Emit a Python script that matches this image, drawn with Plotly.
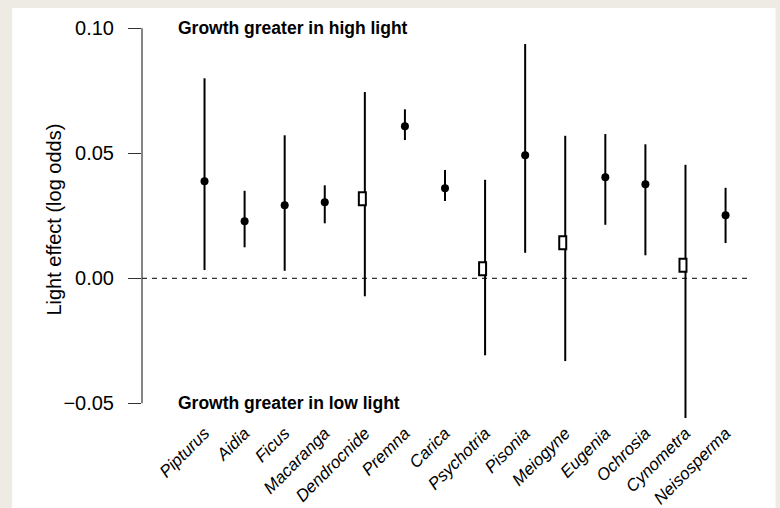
import plotly.graph_objects as go

species = ["Pipturus", "Aidia", "Ficus", "Macaranga", "Dendrocnide", "Premna", "Carica",
           "Psychotria", "Pisonia", "Meiogyne", "Eugenia", "Ochrosia", "Cynometra", "Neisosperma"]
estimate = [0.0388, 0.0228, 0.0292, 0.0304, 0.0318, 0.0608, 0.0360,
            0.0038, 0.0492, 0.0142, 0.0404, 0.0376, 0.0052, 0.0252]
upper = [0.0800, 0.0350, 0.0572, 0.0372, 0.0745, 0.0676, 0.0433,
         0.0394, 0.0937, 0.0570, 0.0577, 0.0536, 0.0454, 0.0362]
lower = [0.0033, 0.0124, 0.0030, 0.0220, -0.0072, 0.0553, 0.0309,
         -0.0308, 0.0102, -0.0331, 0.0214, 0.0092, -0.0559, 0.0141]
significant = [True, True, True, True, False, True, True,
               False, True, False, True, True, False, True]
y_ticks = [-0.05, 0.0, 0.05, 0.10]
y_tick_text = ["\u22120.05", "0.00", "0.05", "0.10"]

xpos = list(range(1, len(species) + 1))

W, H = 780, 508
L, R, T, B = 142, 31.5, 20, 89
pw, ph = W - L - R, H - T - B

def px_to_paper_x(px):
    return (px - L) / pw

def py_to_paper_y(py):
    return (H - B - py) / ph

FONT = "Liberation Sans, Arial, Helvetica, sans-serif"

fig = go.Figure()

fig.add_trace(go.Scatter(
    x=xpos, y=estimate, mode="markers",
    marker=dict(size=2, color="rgba(0,0,0,0)"),
    error_y=dict(type="data", symmetric=False,
                 array=[u - e for u, e in zip(upper, estimate)],
                 arrayminus=[e - l for e, l in zip(estimate, lower)],
                 thickness=2, width=0, color="black"),
    showlegend=False, hoverinfo="skip"))

fig.add_trace(go.Scatter(
    x=[x for x, s in zip(xpos, significant) if s],
    y=[e for e, s in zip(estimate, significant) if s],
    mode="markers", marker=dict(size=8, color="black", symbol="circle"),
    showlegend=False))

shapes = [
    dict(type="rect", xref="paper", yref="paper",
         x0=px_to_paper_x(12), x1=px_to_paper_x(776),
         y0=py_to_paper_y(508), y1=py_to_paper_y(8),
         fillcolor="white", line=dict(width=0), layer="below"),
    dict(type="line", xref="paper", yref="y", x0=0, x1=1, y0=0, y1=0,
         line=dict(color="black", width=1, dash="5px,5px"), layer="below"),
    dict(type="line", xref="paper", yref="y", x0=0, x1=0,
         y0=min(y_ticks), y1=max(y_ticks),
         line=dict(color="#333333", width=1.2), layer="above"),
]
for x, e, s in zip(xpos, estimate, significant):
    if not s:
        shapes.append(dict(type="rect", xref="x", yref="y",
                           xsizemode="pixel", ysizemode="pixel",
                           xanchor=x, yanchor=e, x0=-6, x1=1, y0=-6.5, y1=6.5,
                           fillcolor="white", line=dict(color="black", width=2),
                           layer="above"))

annotations = [
    dict(text="<b>Growth greater in high light</b>", x=0.28, y=0.10, xref="x", yref="y",
         xanchor="left", yanchor="middle", showarrow=False,
         font=dict(family=FONT, size=17.5, color="black")),
    dict(text="<b>Growth greater in low light</b>", x=0.28, y=-0.05, xref="x", yref="y",
         xanchor="left", yanchor="middle", showarrow=False,
         font=dict(family=FONT, size=17.5, color="black")),
    dict(text="Light effect (log odds)", textangle=-90,
         x=px_to_paper_x(53), y=0.5, xref="paper", yref="paper",
         xanchor="center", yanchor="middle", showarrow=False,
         font=dict(family=FONT, size=20, color="black")),
]

fig.update_layout(
    width=W, height=H,
    margin=dict(l=L, r=R, t=T, b=B, autoexpand=False),
    paper_bgcolor="#EEEBE4", plot_bgcolor="white",
    font=dict(family=FONT, color="black"),
    shapes=shapes, annotations=annotations,
    xaxis=dict(range=[-0.56, 14.56], tickmode="array", tickvals=xpos,
               ticktext=["<i>%s</i>" % s for s in species], tickangle=-45,
               showgrid=False, zeroline=False, showline=False, ticks="",
               tickfont=dict(family=FONT, size=17, color="black")),
    yaxis=dict(range=[(278.3 - 419) / 2500, (278.3 - 20) / 2500],
               tickmode="array", tickvals=y_ticks, ticktext=y_tick_text,
               showgrid=False, zeroline=False, showline=False,
               ticks="outside", ticklen=13, tickwidth=1.2, tickcolor="#333333",
               ticklabelstandoff=10,
               tickfont=dict(family=FONT, size=20, color="black")),
)

fig.write_html("out.html")
